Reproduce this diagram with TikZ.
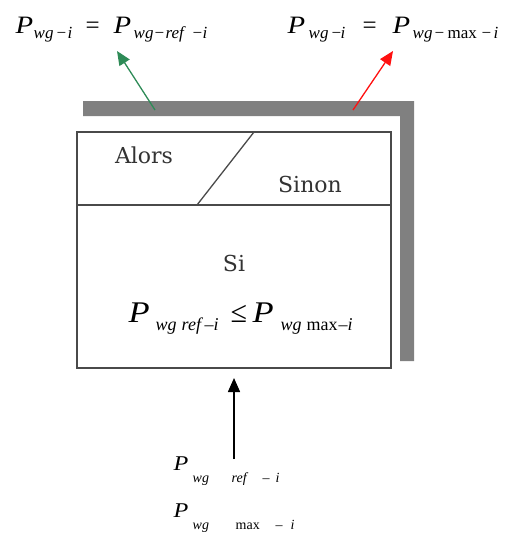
\documentclass[tikz,border=0pt]{standalone}
\usepackage{graphicx}
\usepackage{fontspec}
\setmainfont{Liberation Serif}
\newfontfamily\boxfont{DejaVu Serif}
\usetikzlibrary{arrows.meta}
\definecolor{Shadow}{HTML}{808080}
\definecolor{Frame}{HTML}{4A4A4A}
\definecolor{Green}{HTML}{2E8B57}
\definecolor{Red}{HTML}{FF1010}
% piece of a formula at a fixed offset, a lowered subscript, a wide P
\newcommand{\pc}[2]{\rlap{\hspace*{#1pt}#2}}
\newcommand{\lo}[1]{\raisebox{-\subdrop}{\fontsize{\subsz}{\subsz}\selectfont\itshape #1}}
\newcommand{\PP}{\scalebox{1.15}[1]{\itshape P}}

\begin{document}
\begin{tikzpicture}[x=1pt,y=-1pt,
  eq/.style={anchor=base west,inner sep=0pt},
  eqtop/.style={eq,font=\fontsize{25}{25}\selectfont\def\subsz{17}\def\subdrop{5pt}},
  eqbox/.style={eq,font=\fontsize{30}{30}\selectfont\def\subsz{18}\def\subdrop{8pt}},
  eqin/.style={eq,font=\fontsize{21}{21}\selectfont\def\subsz{14}\def\subdrop{12pt}},
  lbl/.style={font=\boxfont\fontsize{22}{22}\selectfont,text=black!80,inner sep=0pt},
  arrow/.style={-{Triangle[length=14pt,width=12pt]},line width=1.3pt}]
  \useasboundingbox (0,0) rectangle (513,533);

  % shadow of the test block
  \fill[Shadow] (83,101) -- (414,101) -- (414,361) -- (400,361) -- (400,116) -- (83,116) -- cycle;

  % test block
  \node[draw=Frame,line width=1.3pt,fill=white,minimum width=314pt,minimum height=236pt,
    inner sep=0pt] (box) at (234,250) {};
  \coordinate (divw) at (77,205);
  \coordinate (dive) at (391,205);
  \draw[Frame,line width=1.3pt] (divw) -- (dive);
  \coordinate (slashb) at (197,205);
  \coordinate (slasht) at (254,132);
  \draw[Frame,line width=1.3pt] (slashb) -- (slasht);
  \node[lbl] (alors) at (144,155) {Alors};
  \node[lbl] (sinon) at (310,184) {Sinon};
  \node[lbl] (si) at (234,263) {Si};
  \node[eqbox] (cond) at (128,322)
    {\pc{0}{\PP}\pc{27}{\lo{wg}}\pc{53}{\lo{ref}}\pc{76}{\lo{–}}\pc{85}{\lo{i}}%
     \pc{102}{≤}\pc{124}{\PP}\pc{152}{\lo{wg}}\pc{178}{\lo{\upshape max}}%
     \pc{210}{\lo{–}}\pc{219}{\lo{i}}};

  % results
  \node[eqtop] (lhs) at (15,33)
    {\pc{0}{\PP}\pc{18}{\lo{wg}}\pc{40}{\lo{−}}\pc{52}{\lo{i}}\pc{70}{=}%
     \pc{98}{\PP}\pc{118}{\lo{wg}}\pc{138}{\lo{−}}\pc{150}{\lo{ref}}%
     \pc{176}{\lo{−}}\pc{187}{\lo{i}}};
  \node[eqtop] (rhs) at (287,33)
    {\pc{0}{\PP}\pc{21}{\lo{wg}}\pc{43}{\lo{−}}\pc{53}{\lo{i}}\pc{75}{=}%
     \pc{105}{\PP}\pc{125}{\lo{wg}}\pc{146}{\lo{−}}\pc{160}{\lo{\upshape max}}%
     \pc{193}{\lo{−}}\pc{206}{\lo{i}}};

  % inputs
  \node[eqin] (inref) at (173,470)
    {\pc{0}{\PP}\pc{19}{\lo{wg}}\pc{58}{\lo{ref}}\pc{89}{\lo{–}}\pc{102}{\lo{i}}};
  \node[eqin] (inmax) at (173,517)
    {\pc{0}{\PP}\pc{19}{\lo{wg}}\pc{62}{\lo{\upshape max}}\pc{102}{\lo{–}}\pc{117}{\lo{i}}};

  \coordinate (gtail) at (155,110);
  \coordinate (gtip) at (117,51);
  \coordinate (rtail) at (353,110);
  \coordinate (rtip) at (393,51);
  \coordinate (ktail) at (234,459);
  \coordinate (ktip) at (234,378);
  \draw[arrow,Green] (gtail) -- (gtip);
  \draw[arrow,Red] (rtail) -- (rtip);
  \draw[arrow,black,line width=1.6pt] (ktail) -- (ktip);
\end{tikzpicture}
\end{document}
